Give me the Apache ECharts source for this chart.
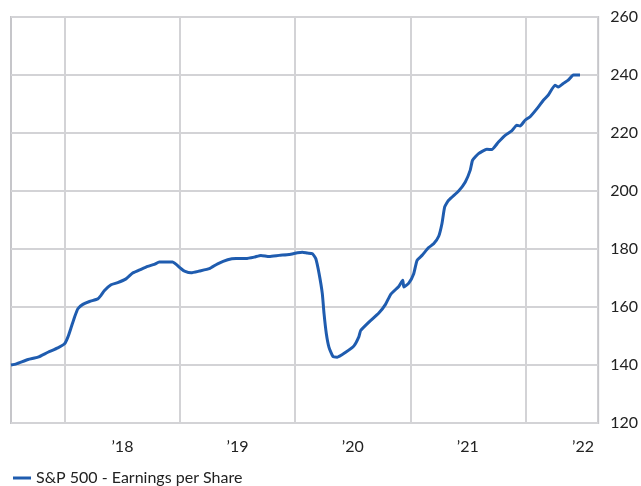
<!DOCTYPE html>
<html>
<head>
<meta charset="utf-8">
<script src="https://cdn.jsdelivr.net/npm/echarts@6/dist/echarts.min.js"></script>
<style>
  html, body { margin: 0; padding: 0; background: #fff; }
  #chart { width: 641px; height: 486px; }
</style>
</head>
<body>
<div id="chart"></div>
<script>
// decimal years
var years = [
  2017.532, 2017.578, 2017.680, 2017.766, 2017.853, 2017.939, 2017.997, 2018.026, 2018.055, 2018.084,
  2018.113, 2018.156, 2018.214, 2018.286, 2018.314, 2018.344, 2018.401, 2018.459, 2018.531, 2018.589,
  2018.661, 2018.719, 2018.777, 2018.820, 2018.877, 2018.935, 2018.967, 2019.010, 2019.039, 2019.097,
  2019.169, 2019.255, 2019.327, 2019.414, 2019.487, 2019.573, 2019.645, 2019.703, 2019.775, 2019.861,
  2019.948, 2020.020, 2020.063, 2020.106, 2020.150, 2020.179, 2020.208, 2020.236, 2020.251, 2020.271,
  2020.294, 2020.329, 2020.366, 2020.439, 2020.511, 2020.554, 2020.569, 2020.641, 2020.727, 2020.785,
  2020.829, 2020.900, 2020.935, 2020.944, 2020.987, 2021.030, 2021.059, 2021.102, 2021.160, 2021.203,
  2021.247, 2021.275, 2021.299, 2021.333, 2021.420, 2021.478, 2021.521, 2021.541, 2021.593, 2021.665,
  2021.708, 2021.766, 2021.824, 2021.881, 2021.925, 2021.954, 2021.997, 2022.041, 2022.113, 2022.156,
  2022.199, 2022.257, 2022.286, 2022.329, 2022.372, 2022.416, 2022.474
];
// S&P 500 earnings per share
var eps = [
  140.0, 140.4, 141.9, 142.7, 144.4, 145.9, 147.3, 149.6, 153.0, 156.5,
  159.4, 160.9, 161.9, 162.8, 164.0, 165.7, 167.7, 168.4, 169.7, 171.7,
  173.0, 174.0, 174.7, 175.5, 175.5, 175.5, 174.7, 173.2, 172.4, 171.8,
  172.4, 173.2, 174.9, 176.3, 176.7, 176.7, 177.2, 177.8, 177.4, 177.8,
  178.1, 178.7, 178.9, 178.6, 178.4, 176.7, 171.5, 164.6, 157.7, 150.8,
  146.1, 142.9, 142.7, 144.4, 146.6, 149.8, 151.9, 154.8, 157.9, 160.9,
  164.3, 167.1, 169.2, 166.9, 168.2, 171.5, 176.1, 177.8, 180.5, 181.8,
  184.4, 188.7, 194.5, 196.8, 200.0, 203.1, 207.2, 210.6, 212.9, 214.4,
  214.3, 216.9, 219.2, 220.7, 222.7, 222.4, 224.4, 225.6, 229.0, 231.3,
  233.1, 236.5, 235.9, 237.1, 238.2, 240.0, 240.0
];
var yearLines = [2018, 2019, 2020, 2021, 2022];
var labelPos = [2018.5, 2019.5, 2020.5, 2021.5, 2022.5];
var yTicks = [120, 140, 160, 180, 200, 220, 240, 260];

var seriesData = years.map(function (y, i) { return [y, eps[i]]; });

var chart = echarts.init(document.getElementById('chart'));
var font = 'Lato, "DejaVu Sans", sans-serif';
var gridColor = '#d3d3d6';

chart.setOption({
  animation: false,
  grid: {
    left: 11, right: 41, top: 17, bottom: 63,
    show: true, borderColor: '#c6c6ca', borderWidth: 2, backgroundColor: '#fff'
  },
  legend: {
    left: 8, top: 465,
    icon: 'rect', itemWidth: 18, itemHeight: 3, itemGap: 6,
    textStyle: { fontFamily: font, fontSize: 16, color: '#222' },
    data: ['S&P 500 - Earnings per Share']
  },
  xAxis: {
    type: 'value',
    min: 2017.532, max: 2022.632,
    axisLine: { show: false },
    axisTick: { show: false, customValues: yearLines },
    splitLine: { show: true, lineStyle: { color: gridColor, width: 2 } },
    axisLabel: {
      customValues: labelPos,
      margin: 16,
      fontFamily: font, fontSize: 16, color: '#222',
      formatter: function (v) { return '\u2019' + String(Math.floor(v)).slice(2); }
    }
  },
  yAxis: {
    type: 'value',
    position: 'right',
    min: yTicks[0], max: yTicks[yTicks.length - 1], interval: 20,
    axisLine: { show: false },
    axisTick: { show: false },
    splitLine: { show: true, lineStyle: { color: gridColor, width: 2 } },
    axisLabel: { margin: 12, fontFamily: font, fontSize: 16, color: '#222' }
  },
  series: [{
    name: 'S&P 500 - Earnings per Share',
    type: 'line',
    data: seriesData,
    showSymbol: false,
    smooth: 0.15,
    lineStyle: { color: '#1f5caf', width: 3 },
    itemStyle: { color: '#1f5caf' }
  }]
});
</script>
</body>
</html>
